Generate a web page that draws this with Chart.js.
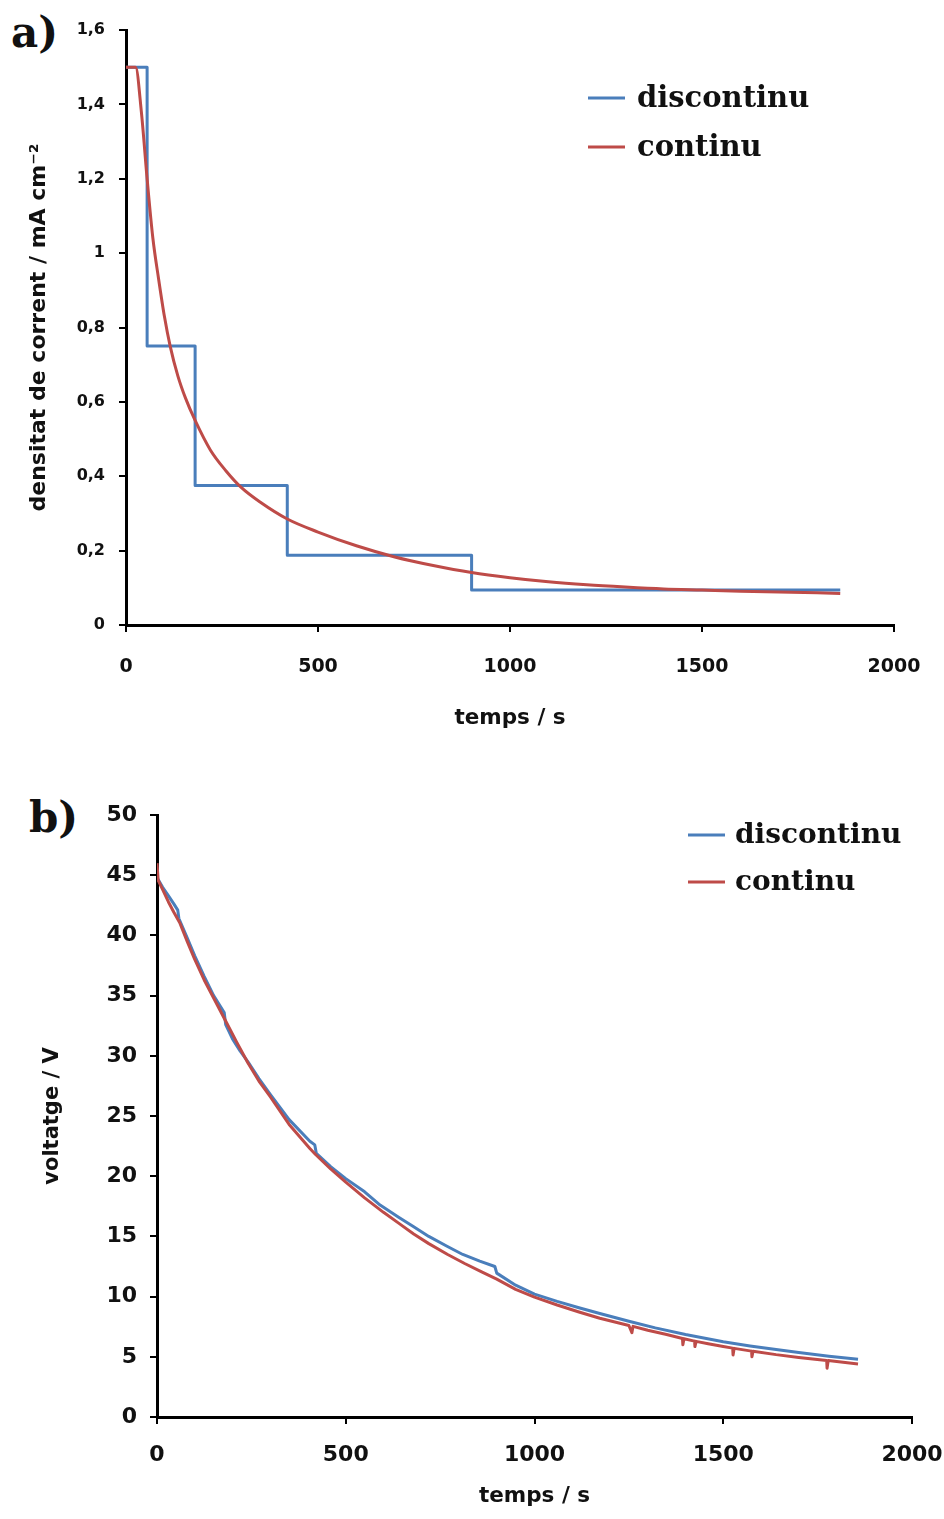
<!DOCTYPE html>
<html>
<head>
<meta charset="utf-8">
<script src="https://cdn.jsdelivr.net/npm/chart.js@4.4.1/dist/chart.umd.min.js"></script>
<style>
    body { margin: 0; background: #fff; width: 944px; height: 1519px; position: relative; overflow: hidden; }
    canvas { position: absolute; left: 0; }
    #chartA { top: 0; }
    #chartB { top: 760px; }
    .tag { position: absolute; font-family: 'DejaVu Serif', serif; font-weight: bold; font-size: 42px; color: #111; line-height: 1; }
</style>
</head>
<body>
<div class="tag" style="left:11px;top:12px">a)</div>
<div class="tag" style="left:29px;top:797px">b)</div>
<canvas id="chartA" width="944" height="740"></canvas>
<canvas id="chartB" width="944" height="759"></canvas>
<script>
// --- a) densitat de corrent ---
const tDiscA = [0, 55, 180, 420, 900, 1860];
const jDisc = [1.5, 0.75, 0.375, 0.1875, 0.094, 0.094];

const tContA = [0, 25, 40, 55, 70, 85, 100, 115, 135, 155, 180, 220, 260, 300, 350, 420, 500, 600, 700, 800, 900, 1000, 1100, 1200, 1300, 1400, 1500, 1600, 1700, 1800, 1860];
const jCont = [1.5, 1.5, 1.38, 1.2, 1.04, 0.93, 0.83, 0.75, 0.67, 0.61, 0.55, 0.47, 0.415, 0.37, 0.33, 0.285, 0.25, 0.213, 0.183, 0.16, 0.141, 0.127, 0.116, 0.108, 0.102, 0.097, 0.094, 0.091, 0.089, 0.087, 0.085];

// --- b) voltatge ---
const tDiscB = [0, 15, 30, 45, 55, 58, 80, 100, 125, 150, 178, 182, 200, 220, 241, 270, 300, 350, 405, 418, 422, 460, 500, 550, 591, 640, 680, 720, 767, 810, 855, 895, 900, 950, 1000, 1060, 1120, 1173, 1250, 1320, 1400, 1500, 1571, 1640, 1700, 1780, 1857];
const vDisc = [44.8, 44.0, 43.3, 42.6, 42.1, 41.4, 39.8, 38.3, 36.6, 35.0, 33.6, 32.6, 31.4, 30.4, 29.5, 28.1, 26.8, 24.7, 22.9, 22.6, 21.9, 20.8, 19.8, 18.7, 17.6, 16.6, 15.8, 15.0, 14.2, 13.5, 12.95, 12.5, 11.95, 10.95, 10.2, 9.6, 9.05, 8.6, 7.95, 7.4, 6.85, 6.25, 5.9, 5.6, 5.35, 5.05, 4.8];

const tContB = [0, 3, 15, 30, 45, 61, 80, 100, 125, 150, 185, 210, 241, 270, 300, 350, 405, 420, 460, 500, 550, 600, 640, 680, 720, 770, 815, 860, 900, 950, 1000, 1060, 1120, 1173, 1250, 1258, 1261, 1300, 1350, 1392, 1393, 1396, 1424, 1425, 1428, 1460, 1500, 1525, 1526, 1529, 1575, 1576, 1579, 1640, 1700, 1774, 1775, 1778, 1857];
const vCont = [46.0, 44.6, 43.8, 42.8, 41.9, 41.0, 39.5, 38.0, 36.3, 34.8, 32.7, 31.2, 29.4, 27.9, 26.6, 24.3, 22.3, 21.8, 20.6, 19.5, 18.2, 17.0, 16.1, 15.2, 14.4, 13.5, 12.75, 12.05, 11.45, 10.6, 9.95, 9.3, 8.7, 8.2, 7.6, 7.0, 7.53, 7.2, 6.85, 6.52, 6.0, 6.5, 6.3, 5.85, 6.28, 6.08, 5.85, 5.72, 5.15, 5.7, 5.47, 5.0, 5.46, 5.18, 4.95, 4.7, 4.05, 4.69, 4.4];

const xTicks = [0, 500, 1000, 1500, 2000];

const BLUE = '#4a7ebb';
const RED = '#be4b48';

const pts = (xs, ys) => xs.map((x, i) => ({ x: x, y: ys[i] }));

// legend drawn inside the plot area
const inLegend = {
    id: 'inLegend',
    afterDraw(chart, args, o) {
        const ctx = chart.ctx;
        chart.data.datasets.forEach((ds, i) => {
            const y = o.y + i * o.gap;
            ctx.save();
            ctx.strokeStyle = ds.borderColor;
            ctx.lineWidth = 3;
            ctx.beginPath();
            ctx.moveTo(o.x, y);
            ctx.lineTo(o.x + o.len, y);
            ctx.stroke();
            ctx.fillStyle = '#111';
            ctx.font = o.font;
            ctx.textBaseline = 'middle';
            ctx.fillText(ds.label, o.x + o.len + o.pad, y + 1);
            ctx.restore();
        });
    }
};

const FONT = 'DejaVu Sans';

function axisX(cfg) {
    return {
        type: 'linear', min: 0, max: 2000,
        afterBuildTicks: s => { s.ticks = xTicks.map(v => ({ value: v })); },
        afterFit: s => { s.height = cfg.h; s.paddingLeft = 0; s.paddingRight = 0; },
        ticks: { color: '#111', padding: cfg.pad, font: { family: FONT, weight: 'bold', size: cfg.tickSize }, callback: v => String(v) },
        grid: { drawOnChartArea: false, color: '#000', lineWidth: 2, tickLength: 7 },
        border: { color: '#000', width: 3 },
        title: { display: true, text: 'temps / s', color: '#111', font: { family: FONT, weight: 'bold', size: cfg.titleSize }, padding: { top: 0, bottom: cfg.tPad } }
    };
}

function axisY(cfg) {
    return {
        min: 0, max: cfg.max,
        afterFit: s => { s.width = cfg.w; s.paddingTop = 0; s.paddingBottom = 0; },
        ticks: { stepSize: cfg.step, color: '#111', padding: cfg.pad, font: { family: FONT, weight: 'bold', size: cfg.tickSize }, callback: cfg.fmt },
        grid: { drawOnChartArea: false, color: '#000', lineWidth: 2, tickLength: 7 },
        border: { color: '#000', width: 3 },
        title: { display: true, text: cfg.title, color: '#111', font: { family: FONT, weight: 'bold', size: cfg.titleSize }, padding: { top: cfg.tPad, bottom: 0 } }
    };
}

function makeChart(id, o) {
    const line = { borderWidth: 3, pointRadius: 0, borderJoinStyle: 'round', cubicInterpolationMode: o.interp, tension: 0 };
    return new Chart(document.getElementById(id), {
        type: 'line',
        data: {
            datasets: [
                Object.assign({ label: 'discontinu', data: o.disc, borderColor: BLUE, stepped: o.stepped, order: 1 }, line),
                Object.assign({ label: 'continu', data: o.cont, borderColor: RED, order: 0 }, line)
            ]
        },
        options: {
            responsive: false,
            animation: false,
            devicePixelRatio: 1,
            layout: { padding: o.padding },
            plugins: { legend: { display: false }, tooltip: { enabled: false }, inLegend: o.legend },
            scales: { x: axisX(o.x), y: axisY(o.y) }
        },
        plugins: [inLegend]
    });
}

makeChart('chartA', {
    disc: pts(tDiscA, jDisc),
    cont: pts(tContA, jCont),
    stepped: 'before',
    interp: 'monotone',
    padding: { left: 0, right: 50, top: 30, bottom: 0 },
    legend: { x: 588, y: 98, gap: 49, len: 37, pad: 12, font: 'bold 29px "DejaVu Serif"' },
    x: { h: 115, pad: 24, tickSize: 19, titleSize: 21.5, tPad: 9 },
    y: { w: 126, max: 1.6, step: 0.2, pad: 14, tickSize: 16, titleSize: 22, tPad: 26,
         title: 'densitat de corrent / mA cm⁻²',
         fmt: v => (Math.round(v * 10) / 10).toString().replace('.', ',') }
});

makeChart('chartB', {
    disc: pts(tDiscB, vDisc),
    cont: pts(tContB, vCont),
    stepped: false,
    interp: 'default',
    padding: { left: 0, right: 32, top: 55, bottom: 0 },
    legend: { x: 688, y: 75, gap: 47, len: 37, pad: 10, font: 'bold 28px "DejaVu Serif"' },
    x: { h: 102, pad: 18, tickSize: 22, titleSize: 21.5, tPad: 10 },
    y: { w: 157, max: 50, step: 5, pad: 13, tickSize: 22, titleSize: 21, tPad: 40,
         title: 'voltatge / V', fmt: v => String(v) }
});
</script>
</body>
</html>
